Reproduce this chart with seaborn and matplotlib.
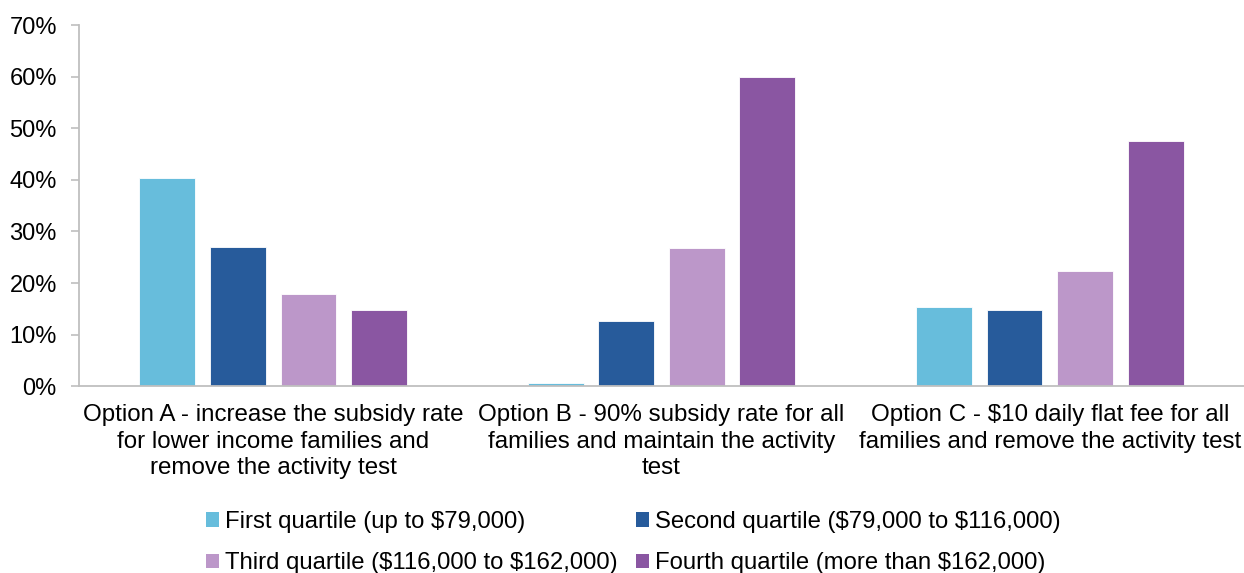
import matplotlib
matplotlib.use("Agg")
import matplotlib.pyplot as plt
import seaborn as sns
import pandas as pd
from matplotlib.patches import Patch
from matplotlib.ticker import FuncFormatter

categories = [
    "Option A - increase the subsidy rate\nfor lower income families and\nremove the activity test",
    "Option B - 90% subsidy rate for all\nfamilies and maintain the activity\ntest",
    "Option C - \\$10 daily flat fee for all\nfamilies and remove the activity test",
]
series = [
    "First quartile (up to \\$79,000)",
    "Second quartile (\\$79,000 to \\$116,000)",
    "Third quartile (\\$116,000 to \\$162,000)",
    "Fourth quartile (more than \\$162,000)",
]
first_q = [40.3, 0.6, 15.4]
second_q = [27.0, 12.6, 14.7]
third_q = [17.9, 26.8, 22.4]
fourth_q = [14.8, 60.0, 47.5]
colors = ["#67BDDC", "#275B9B", "#BC97C9", "#8A56A2"]

rows = []
for s, vals in zip(series, [first_q, second_q, third_q, fourth_q]):
    for c, v in zip(categories, vals):
        rows.append({"cat": c, "series": s, "val": v})
df = pd.DataFrame(rows)

sns.set_theme(style="white")
plt.rcParams["font.family"] = ["Liberation Sans", "DejaVu Sans"]
plt.rcParams["text.color"] = "black"

fig = plt.figure(figsize=(12.44, 5.73), dpi=100)
ax = fig.add_axes([0.0635, 0.326, 0.9365, 0.63])

sns.barplot(data=df, x="cat", y="val", hue="series", order=categories,
            hue_order=series, palette=colors, saturation=1, width=0.727,
            gap=0.21, edgecolor="white", linewidth=0.6, ax=ax, legend=False)

ax.set_ylim(0, 70)
ax.set_xlim(-0.5, 2.5)
ax.set_yticks(range(0, 71, 10))
ax.yaxis.set_major_formatter(FuncFormatter(lambda v, p: f"{int(v)}%"))
ax.set_xlabel("")
ax.set_ylabel("")
for side in ["top", "right"]:
    ax.spines[side].set_visible(False)
for side in ["left", "bottom"]:
    ax.spines[side].set_color("#BFBFBF")
    ax.spines[side].set_linewidth(1.3)
ax.tick_params(axis="y", which="major", left=True, length=6, width=1.2,
               color="#BFBFBF", labelsize=17, labelcolor="black", pad=10)
ax.tick_params(axis="x", bottom=False, labelsize=17.4, labelcolor="black", pad=7)
for lbl in ax.get_xticklabels():
    lbl.set_linespacing(1.27)

order = [0, 2, 1, 3]
handles = [Patch(facecolor=colors[i], edgecolor="none") for i in order]
labels = [series[i] for i in order]
fig.legend(handles, labels, loc="lower center", ncol=2,
           bbox_to_anchor=(0.509, -0.04), frameon=False, fontsize=17.2,
           labelcolor="black",
           handlelength=0.55, handleheight=0.55, handletextpad=0.25,
           columnspacing=0.75, labelspacing=0.82)

fig.savefig("out.png", dpi=100)
